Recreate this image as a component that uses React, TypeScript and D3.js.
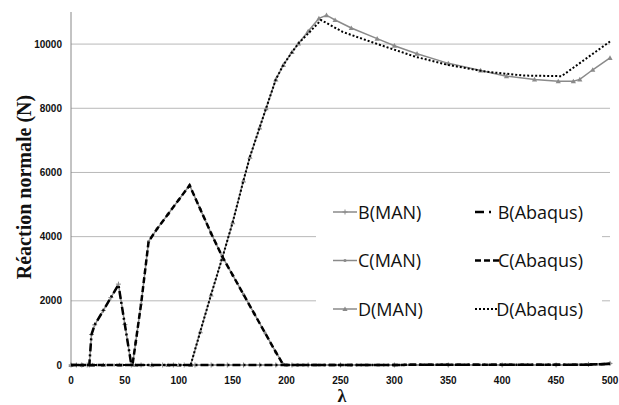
import React from "react";
import * as d3 from "d3";

type P = [number, number];

// λ vs normal reaction (N)
const B_MAN: P[] = [[0,0],[5,0],[10,0],[15,0],[17,0],[19,950],[22,1250],[30,1700],[37,2100],[44,2520],[50,1260],[56,0],[65,0],[75,0],[85,0],[95,0],[105,0],[115,0],[130,0],[145,0],[160,0],[175,0],[190,0],[205,0],[220,0],[250,0],[300,0],[350,0],[400,0],[450,0],[480,20],[500,50]];
const C_MAN: P[] = [[0,0],[8,0],[16,0],[24,0],[32,0],[40,0],[48,0],[57,0],[60,700],[65,1900],[72,3850],[80,4250],[90,4700],[100,5150],[110,5600],[120,4850],[130,4100],[140,3400],[150,2800],[160,2200],[170,1600],[180,1000],[190,400],[197,30],[200,0],[210,0],[230,0],[260,0],[300,0],[350,0],[400,0],[450,0],[480,20],[500,50]];
const D_MAN: P[] = [[0,0],[10,0],[20,0],[30,0],[45,0],[60,0],[75,0],[90,0],[100,0],[111,0],[120,1050],[130,2200],[140,3300],[150,4450],[160,5750],[166,6490],[175,7400],[181,8000],[190,8900],[197,9350],[205,9750],[211,10020],[220,10400],[230,10800],[237,10900],[245,10750],[260,10500],[284,10170],[300,9950],[321,9700],[350,9400],[380,9180],[404,9000],[430,8900],[452,8840],[466,8840],[472,8900],[484,9200],[500,9570]];

const B_ABQ: P[] = [[0,0],[17,0],[19,950],[22,1250],[30,1700],[37,2100],[44,2500],[56,0],[200,0],[480,10],[500,40]];
const C_ABQ: P[] = [[0,0],[57,0],[60,700],[65,1900],[72,3850],[80,4250],[90,4700],[100,5150],[110,5600],[120,4850],[130,4100],[140,3400],[150,2800],[160,2200],[170,1600],[180,1000],[190,400],[197,0],[480,10],[500,40]];
const D_ABQ: P[] = [[0,0],[111,0],[120,1050],[130,2200],[140,3300],[150,4450],[160,5750],[166,6490],[175,7400],[181,8000],[190,8900],[197,9350],[205,9750],[211,10020],[222,10400],[232,10750],[252,10380],[280,10050],[320,9600],[350,9350],[385,9140],[420,9020],[455,9000],[460,9120],[480,9600],[500,10080]];

const xTicks = [0,50,100,150,200,250,300,350,400,450,500];
const yTicks = [0,2000,4000,6000,8000,10000];
const gridVals = [2000,4000,6000,8000,10000];

const W = 619, H = 405;
const x = d3.scaleLinear().domain([0, 500]).range([71, 610]);
const y = d3.scaleLinear().domain([0, 11000]).range([365, 12]);
const line = d3.line<P>().x(d => x(d[0])).y(d => y(d[1]));

const GRAY = "#8a8a8a";
const tickFont = "'Liberation Sans', Arial, sans-serif";

function Cross({ cx, cy }: { cx: number; cy: number }) {
  return <path d={`M${cx - 2.5},${cy}H${cx + 2.5}M${cx},${cy - 2.5}V${cy + 2.5}`} stroke={GRAY} strokeWidth={1} />;
}
function Dot({ cx, cy }: { cx: number; cy: number }) {
  return <circle cx={cx} cy={cy} r={1.6} fill={GRAY} />;
}
function Tri({ cx, cy }: { cx: number; cy: number }) {
  return <path d={`M${cx},${cy - 2.6}L${cx + 2.6},${cy + 2}L${cx - 2.6},${cy + 2}Z`} fill={GRAY} />;
}

export default function App() {
  const legendRows = [212, 260.5, 309];
  return (
    <svg width={W} height={H} style={{ position: "absolute", left: 0, top: 0, background: "#fff" }}>
      <rect width={W} height={H} fill="#fff" />
      {gridVals.map(v => (
        <line key={v} x1={71} x2={610} y1={y(v)} y2={y(v)} stroke="#b8b8b8" strokeWidth={1} />
      ))}
      <line x1={71} x2={71} y1={12} y2={365} stroke="#888" strokeWidth={1} />
      <line x1={71} x2={610} y1={365} y2={365} stroke="#888" strokeWidth={1} />

      {/* MAN series */}
      <path d={line(B_MAN)!} fill="none" stroke={GRAY} strokeWidth={1.5} />
      {B_MAN.map((d, i) => <Cross key={"b" + i} cx={x(d[0])} cy={y(d[1])} />)}
      <path d={line(C_MAN)!} fill="none" stroke={GRAY} strokeWidth={1.5} />
      {C_MAN.map((d, i) => <Dot key={"c" + i} cx={x(d[0])} cy={y(d[1])} />)}
      <path d={line(D_MAN)!} fill="none" stroke={GRAY} strokeWidth={1.5} />
      {D_MAN.map((d, i) => <Tri key={"d" + i} cx={x(d[0])} cy={y(d[1])} />)}

      {/* Abaqus series */}
      <path d={line(B_ABQ)!} fill="none" stroke="#000" strokeWidth={2.5} strokeDasharray="8,3,2,3" />
      <path d={line(C_ABQ)!} fill="none" stroke="#000" strokeWidth={2.5} strokeDasharray="6,3" />
      <path d={line(D_ABQ)!} fill="none" stroke="#000" strokeWidth={2} strokeDasharray="2,2" />

      {/* tick labels */}
      {yTicks.map(v => (
        <text key={v} x={62} y={y(v)} dy="0.35em" textAnchor="end" fontFamily={tickFont} fontWeight="bold" fontSize={10} fill="#111">{v}</text>
      ))}
      {xTicks.map(v => (
        <text key={v} x={x(v)} y={384} textAnchor="middle" fontFamily={tickFont} fontWeight="bold" fontSize={10} fill="#111">{v}</text>
      ))}

      {/* axis titles */}
      <text transform="translate(31,187) rotate(-90)" textAnchor="middle" fontFamily="'Liberation Serif', 'Times New Roman', serif" fontWeight="bold" fontSize={20} fill="#111">Réaction normale (N)</text>
      <text x={342} y={402} textAnchor="middle" fontFamily="'Liberation Serif', 'Times New Roman', serif" fontWeight="bold" fontSize={18} fill="#111">λ</text>

      {/* legend */}
      <rect x={316} y={185} width={286} height={150} fill="#fff" />
      {["B(MAN)", "C(MAN)", "D(MAN)"].map((t, i) => (
        <g key={t}>
          <line x1={333} x2={357} y1={legendRows[i]} y2={legendRows[i]} stroke={GRAY} strokeWidth={1.5} />
          {i === 0 && <Cross cx={345} cy={legendRows[i]} />}
          {i === 1 && <Dot cx={345} cy={legendRows[i]} />}
          {i === 2 && <Tri cx={345} cy={legendRows[i]} />}
          <text x={358} y={legendRows[i] + 6.5} fontFamily="'Open Sans', sans-serif" fontSize={18} fill="#111">{t}</text>
        </g>
      ))}
      <line x1={475} x2={498} y1={legendRows[0]} y2={legendRows[0]} stroke="#000" strokeWidth={2.5} strokeDasharray="9,5,2,20" />
      <line x1={475} x2={500} y1={legendRows[1]} y2={legendRows[1]} stroke="#000" strokeWidth={2.5} strokeDasharray="6,3" />
      <line x1={475} x2={497} y1={legendRows[2]} y2={legendRows[2]} stroke="#000" strokeWidth={2} strokeDasharray="2,2" />
      {["B(Abaqus)", "C(Abaqus)", "D(Abaqus)"].map((t, i) => (
        <text key={t} x={583} y={legendRows[i] + 6.5} textAnchor="end" fontFamily="'Open Sans', sans-serif" fontSize={18} fill="#111">{t}</text>
      ))}
    </svg>
  );
}
